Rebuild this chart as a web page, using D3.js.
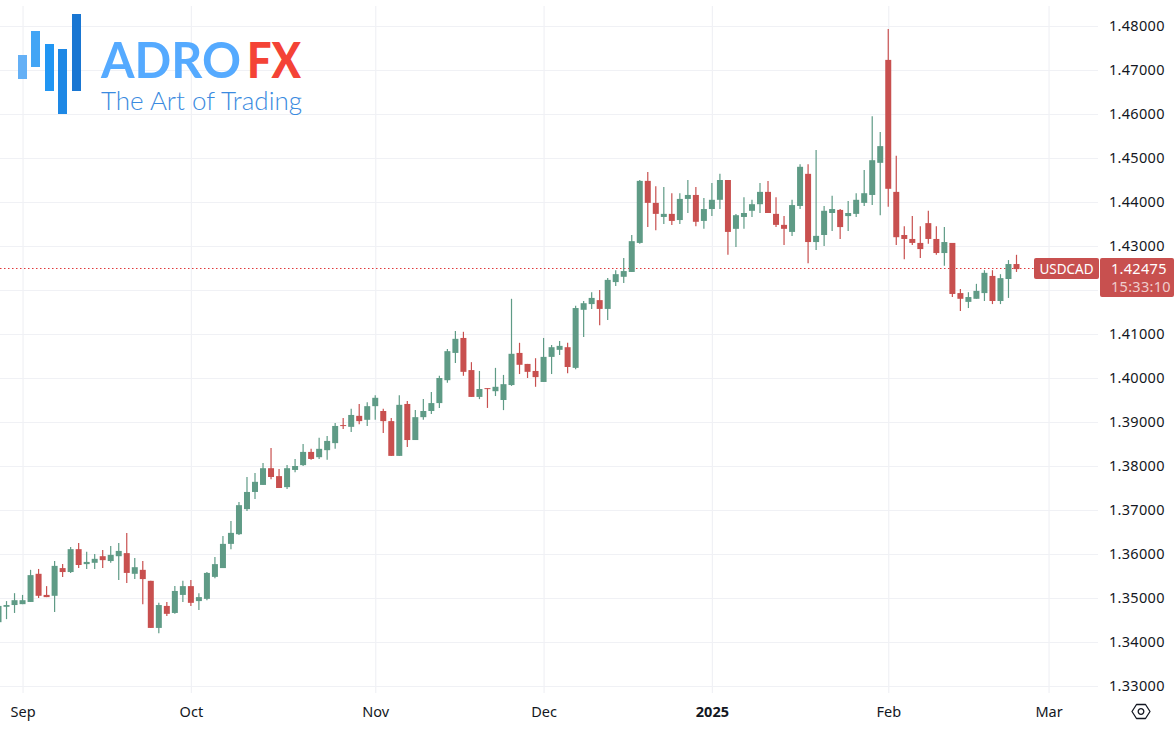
<!DOCTYPE html>
<html>
<head>
<meta charset="utf-8">
<title>USDCAD</title>
<script src="https://cdn.jsdelivr.net/npm/d3@7"></script>
<style>
    html, body { margin: 0; padding: 0; background: #fff; overflow: hidden; }
    text { font-family: "Noto Sans", sans-serif; }
</style>
</head>
<body>
<div id="chart"></div>
<script>
(function(){
    'use strict';

    var opens = [
        1.3445,1.3480,1.3484,1.3486,1.3491,1.3555,1.3507,1.3505,1.3568,1.3559,
        1.3611,1.3577,1.3580,1.3595,1.3584,1.3595,1.3602,1.3555,1.3564,1.3539,
        1.3432,1.3482,1.3466,1.3507,1.3527,1.3493,1.3498,1.3548,1.3568,1.3623,
        1.3645,1.3702,1.3741,1.3757,1.3795,1.3777,1.3752,1.3791,1.3802,1.3832,
        1.3820,1.3836,1.3852,1.3893,1.3889,1.3914,1.3905,1.3936,1.3925,1.3902,
        1.3823,1.3941,1.3859,1.3911,1.3925,1.3943,1.3995,1.4057,1.4091,1.4018,
        1.3957,1.3977,1.3970,1.3950,1.3984,1.4057,1.4032,1.4016,1.3991,1.4048,
        1.4064,1.4070,1.4023,1.4155,1.4168,1.4177,1.4157,1.4218,1.4230,1.4241,
        1.4307,1.4448,1.4398,1.4366,1.4373,1.4359,1.4407,1.4416,1.4357,1.4384,
        1.4405,1.4450,1.4339,1.4366,1.4380,1.4395,1.4423,1.4373,1.4348,1.4332,
        1.4391,1.4464,1.4309,1.4325,1.4375,1.4382,1.4368,1.4373,1.4398,1.4416,
        1.4489,1.4723,1.4423,1.4325,1.4316,1.4307,1.4352,1.4316,1.4284,1.4307,
        1.4193,1.4173,1.4180,1.4193,1.4232,1.4175,1.4225,1.4259
    ];
    var highs = [
        1.3486,1.3493,1.3511,1.3507,1.3564,1.3566,1.3527,1.3584,1.3577,1.3616,
        1.3625,1.3605,1.3600,1.3609,1.3618,1.3625,1.3648,1.3591,1.3584,1.3539,
        1.3489,1.3491,1.3527,1.3539,1.3541,1.3511,1.3559,1.3593,1.3641,1.3675,
        1.3718,1.3775,1.3784,1.3807,1.3841,1.3793,1.3802,1.3816,1.3850,1.3839,
        1.3864,1.3868,1.3898,1.3909,1.3930,1.3941,1.3945,1.3961,1.3930,1.3909,
        1.3961,1.3948,1.3927,1.3952,1.3968,1.4005,1.4066,1.4107,1.4105,1.4036,
        1.4016,1.3977,1.4023,1.4007,1.4180,1.4080,1.4032,1.4045,1.4091,1.4075,
        1.4084,1.4080,1.4164,1.4175,1.4195,1.4200,1.4227,1.4245,1.4273,1.4325,
        1.4450,1.4468,1.4436,1.4434,1.4420,1.4420,1.4450,1.4434,1.4409,1.4443,
        1.4464,1.4450,1.4373,1.4411,1.4405,1.4443,1.4448,1.4411,1.4368,1.4405,
        1.4486,1.4486,1.4518,1.4391,1.4414,1.4384,1.4402,1.4420,1.4473,1.4595,
        1.4559,1.4793,1.4505,1.4345,1.4368,1.4345,1.4380,1.4345,1.4343,1.4307,
        1.4202,1.4195,1.4214,1.4245,1.4245,1.4236,1.4268,1.4280
    ];
    var lows = [
        1.3445,1.3452,1.3466,1.3486,1.3491,1.3500,1.3502,1.3468,1.3548,1.3557,
        1.3568,1.3566,1.3566,1.3568,1.3580,1.3541,1.3534,1.3543,1.3486,1.3432,
        1.3420,1.3459,1.3464,1.3491,1.3482,1.3473,1.3495,1.3545,1.3568,1.3611,
        1.3643,1.3698,1.3725,1.3757,1.3770,1.3750,1.3748,1.3786,1.3800,1.3814,
        1.3816,1.3814,1.3839,1.3884,1.3877,1.3895,1.3891,1.3905,1.3875,1.3823,
        1.3823,1.3843,1.3859,1.3905,1.3918,1.3932,1.3989,1.4034,1.4005,1.3957,
        1.3952,1.3932,1.3959,1.3927,1.3982,1.4009,1.4000,1.3980,1.3991,1.4009,
        1.4052,1.4011,1.4020,1.4093,1.4157,1.4120,1.4132,1.4209,1.4216,1.4241,
        1.4305,1.4343,1.4336,1.4350,1.4348,1.4350,1.4375,1.4345,1.4339,1.4368,
        1.4384,1.4280,1.4298,1.4339,1.4366,1.4375,1.4375,1.4343,1.4302,1.4323,
        1.4384,1.4261,1.4291,1.4300,1.4334,1.4316,1.4334,1.4366,1.4391,1.4393,
        1.4370,1.4389,1.4302,1.4270,1.4302,1.4273,1.4305,1.4280,1.4255,1.4184,
        1.4152,1.4159,1.4180,1.4175,1.4168,1.4168,1.4182,1.4241
    ];
    var closes = [
        1.3482,1.3484,1.3495,1.3495,1.3552,1.3505,1.3502,1.3573,1.3559,1.3611,
        1.3575,1.3582,1.3589,1.3586,1.3598,1.3607,1.3557,1.3570,1.3543,1.3432,
        1.3484,1.3464,1.3516,1.3527,1.3489,1.3502,1.3557,1.3577,1.3623,1.3648,
        1.3711,1.3741,1.3764,1.3795,1.3775,1.3750,1.3795,1.3800,1.3832,1.3816,
        1.3839,1.3857,1.3891,1.3891,1.3916,1.3902,1.3936,1.3955,1.3902,1.3823,
        1.3939,1.3859,1.3911,1.3925,1.3943,1.4000,1.4061,1.4089,1.4014,1.3957,
        1.3975,1.3975,1.3980,1.3986,1.4055,1.4030,1.4014,1.4002,1.4048,1.4070,
        1.4073,1.4025,1.4159,1.4170,1.4182,1.4157,1.4223,1.4236,1.4243,1.4311,
        1.4448,1.4398,1.4373,1.4373,1.4357,1.4407,1.4416,1.4355,1.4384,1.4405,
        1.4450,1.4332,1.4370,1.4375,1.4395,1.4423,1.4375,1.4348,1.4339,1.4393,
        1.4480,1.4309,1.4323,1.4380,1.4384,1.4343,1.4375,1.4405,1.4420,1.4495,
        1.4527,1.4430,1.4320,1.4316,1.4307,1.4293,1.4316,1.4284,1.4309,1.4191,
        1.4180,1.4184,1.4198,1.4239,1.4175,1.4227,1.4259,1.42475
    ];

    var priceTicks = [1.33,1.34,1.35,1.36,1.37,1.38,1.39,1.40,1.41,1.42,1.43,1.44,1.45,1.46,1.47,1.48];
    // 1.42 sits under the price tag, so it has a grid line but no label
    var priceLabels = [1.33,1.34,1.35,1.36,1.37,1.38,1.39,1.40,1.41,1.43,1.44,1.45,1.46,1.47,1.48];
    // bar number where each month starts
    var monthStart = [3, 24, 47, 68, 89, 111, 131];
    var monthLabels = ['Sep', 'Oct', 'Nov', 'Dec', '2025', 'Feb', 'Mar'];
    var symbol = 'USDCAD';
    var lastPrice = 1.42475;
    var countdown = '15:33:10';

    var upColor = '#5f9b86', downColor = '#c8504f', gridColor = '#f0f1f5', textColor = '#131722';
    var width = 1176, height = 730, plotRight = 1098, plotBottom = 693;

    var x = d3.scaleLinear().domain([0, closes.length - 1]).range([-1.5, 1016.5]);
    var y = d3.scaleLinear().domain([1.33, 1.48]).range([686, 26]);

    var svg = d3.select('#chart').append('svg')
        .attr('width', width)
        .attr('height', height)
        .style('display', 'block');

    // grid, drawn by the axes themselves
    svg.append('g')
        .attr('class', 'hgrid')
        .call(d3.axisLeft(y).tickValues(priceTicks).tickSize(-plotRight).tickFormat(''))
        .call(function(g) { g.select('.domain').remove() })
        .call(function(g) { g.selectAll('line').attr('stroke', gridColor).attr('stroke-width', 1.2) });

    svg.append('g')
        .attr('class', 'vgrid')
        .attr('transform', 'translate(0,' + plotBottom + ')')
        .call(d3.axisBottom(x).tickValues(monthStart).tickSize(-(plotBottom - 6)).tickFormat(''))
        .call(function(g) { g.select('.domain').remove() })
        .call(function(g) { g.selectAll('line').attr('stroke', gridColor).attr('stroke-width', 1.2) });

    drawLogo();

    // last price line
    svg.append('line')
        .attr('x1', 0)
        .attr('x2', plotRight)
        .attr('y1', Math.round(y(lastPrice)) - 0.5)
        .attr('y2', Math.round(y(lastPrice)) - 0.5)
        .attr('stroke', '#e0383a')
        .attr('stroke-width', 1)
        .attr('stroke-dasharray', '1.5 2.5');

    // candles
    var candles = svg.append('g').selectAll('g').data(closes).enter().append('g')
        .attr('fill', function(d, i) { return d >= opens[i] ? upColor : downColor })
        .attr('stroke', function(d, i) { return d >= opens[i] ? upColor : downColor });

    candles.append('line')
        .attr('x1', function(d, i) { return x(i) })
        .attr('x2', function(d, i) { return x(i) })
        .attr('y1', function(d, i) { return y(highs[i]) })
        .attr('y2', function(d, i) { return y(lows[i]) })
        .attr('stroke-width', 1.2);

    candles.append('rect')
        .attr('x', function(d, i) { return x(i) - 3 })
        .attr('width', 6)
        .attr('y', function(d, i) { return y(Math.max(opens[i], d)) })
        .attr('height', function(d, i) { return Math.max(1, Math.abs(y(opens[i]) - y(d))) })
        .attr('stroke', 'none');

    // price scale
    svg.append('g')
        .attr('class', 'price-axis')
        .attr('transform', 'translate(1109,0)')
        .call(d3.axisRight(y).tickValues(priceLabels).tickSize(0).tickPadding(0).tickFormat(d3.format('.5f')))
        .call(function(g) { g.select('.domain').remove() })
        .call(function(g) {
            g.selectAll('text')
                .attr('fill', textColor)
                .attr('dy', '.33em')
                .style('font-size', '14.5px')
                .style('letter-spacing', '0.3px');
        });

    // time scale
    svg.append('g')
        .attr('class', 'time-axis')
        .attr('transform', 'translate(0,' + plotBottom + ')')
        .call(d3.axisBottom(x).tickValues(monthStart).tickSize(0).tickPadding(14)
            .tickFormat(function(d, i) { return monthLabels[i] }))
        .call(function(g) { g.select('.domain').remove() })
        .call(function(g) {
            g.selectAll('text')
                .attr('fill', textColor)
                .style('font-size', '14.5px')
                .style('font-weight', function(d, i) { return monthLabels[i] === '2025' ? 700 : 400 });
        });

    // symbol and price tags
    var tagY = y(lastPrice) - 11;
    svg.append('rect').attr('x', 1034).attr('y', tagY).attr('width', 65).attr('height', 21).attr('rx', 2).attr('fill', downColor);
    svg.append('rect').attr('x', 1100).attr('y', tagY).attr('width', 74).attr('height', 39).attr('rx', 2).attr('fill', downColor);

    svg.append('text').attr('x', 1066.5).attr('y', tagY + 16).attr('text-anchor', 'middle')
        .attr('fill', '#fff').style('font-size', '13.5px').text(symbol);
    svg.append('text').attr('x', 1111).attr('y', tagY + 16)
        .attr('fill', '#fff').style('font-size', '14.5px').style('letter-spacing', '0.3px').text(d3.format('.5f')(lastPrice));
    svg.append('text').attr('x', 1111).attr('y', tagY + 34)
        .attr('fill', 'rgba(255,255,255,0.72)').style('font-size', '14.5px').style('letter-spacing', '0.3px').text(countdown);

    // settings hexagon
    var gear = svg.append('g').attr('transform', 'translate(1141,711.5)').attr('fill', 'none').attr('stroke', textColor).attr('stroke-width', 1.3);
    gear.append('path').attr('d', 'M-9,0L-4.5,-7L4.5,-7L9,0L4.5,7L-4.5,7Z').attr('stroke-linejoin', 'round');
    gear.append('circle').attr('r', 2.8);

    function drawLogo() {
        var bars = [
            {x: 18, y0: 55, y1: 79, c: '#64b0f6'},
            {x: 31, y0: 31, y1: 67, c: '#42a5f5'},
            {x: 45, y0: 44, y1: 91, c: '#2196f3'},
            {x: 58, y0: 49, y1: 114, c: '#1e88e5'},
            {x: 72, y0: 14, y1: 91, c: '#1976d2'}
        ];
        var logo = svg.append('g').attr('class', 'logo');
        logo.selectAll('rect').data(bars).enter().append('rect')
            .attr('x', function(d) { return d.x })
            .attr('y', function(d) { return d.y0 })
            .attr('width', 9)
            .attr('height', function(d) { return d.y1 - d.y0 })
            .attr('fill', function(d) { return d.c });

        logo.append('text').attr('x', 101).attr('y', 78)
            .attr('textLength', 140).attr('lengthAdjust', 'spacingAndGlyphs')
            .attr('fill', '#55aaff')
            .style('font-family', 'Lato, sans-serif').style('font-size', '49px').style('font-weight', 700)
            .text('ADRO');
        logo.append('text').attr('x', 247).attr('y', 78)
            .attr('textLength', 54).attr('lengthAdjust', 'spacingAndGlyphs')
            .attr('fill', '#f44336')
            .style('font-family', 'Lato, sans-serif').style('font-size', '49px').style('font-weight', 900)
            .text('FX');
        logo.append('text').attr('x', 101).attr('y', 110)
            .attr('textLength', 201).attr('lengthAdjust', 'spacingAndGlyphs')
            .attr('fill', '#3a8ae0')
            .style('font-family', 'Lato, sans-serif').style('font-size', '26px').style('font-weight', 300)
            .text('The Art of Trading');
    }
})()
</script>
</body>
</html>
